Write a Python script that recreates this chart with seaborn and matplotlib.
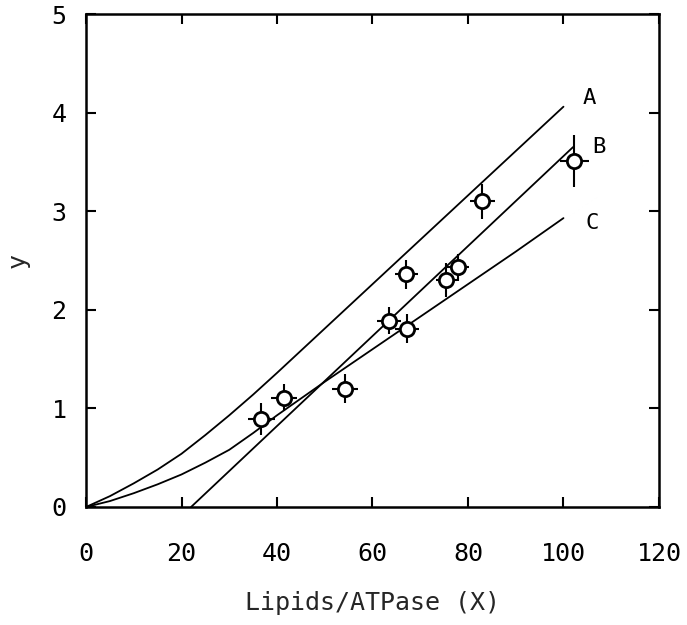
import matplotlib
matplotlib.use("Agg")
import matplotlib.pyplot as plt
import numpy as np
import pandas as pd
import seaborn as sns

# ---- data ----
curve_x = [0, 5, 10, 15, 20, 25, 30, 35, 40, 50, 60, 70, 80, 90, 100]
curve_A = [0, 0.11, 0.24, 0.38, 0.54, 0.73, 0.93, 1.14, 1.36, 1.81, 2.26, 2.71, 3.16, 3.61, 4.06]
curve_C = [0, 0.06, 0.14, 0.23, 0.33, 0.45, 0.58, 0.75, 0.93, 1.27, 1.60, 1.93, 2.26, 2.59, 2.93]
line_B_x = [22, 102]
line_B_y = [0, 3.65]

pts_x = [36.7, 41.5, 54.2, 63.4, 67.2, 67.1, 75.5, 78.0, 83.0, 102.3]
pts_y = [0.89, 1.11, 1.20, 1.89, 1.81, 2.36, 2.30, 2.43, 3.10, 3.51]
pts_xerr = [2.8, 2.7, 2.7, 2.5, 2.5, 2.4, 2.2, 2.3, 2.6, 3.1]
pts_yerr = [0.16, 0.14, 0.15, 0.14, 0.15, 0.15, 0.17, 0.14, 0.18, 0.26]

curve_labels = ["A", "B", "C"]
label_x = [105.3, 107.5, 106.0]
label_y = [4.15, 3.65, 2.88]

x_ticks = [0, 20, 40, 60, 80, 100, 120]
y_ticks = [0, 1, 2, 3, 4, 5]
x_label = "Lipids/ATPase (X)"
y_label = "y"

# ---- styling ----
sns.set_style("ticks")
plt.rcParams['font.family'] = ['DejaVu Sans Mono', 'DejaVu Sans']

fig = plt.figure(figsize=(6.87, 6.25), dpi=100)
ax = fig.add_axes([0.1252, 0.1888, 0.834, 0.7888])

df_curves = pd.concat([
    pd.DataFrame({"x": curve_x, "y": curve_A, "curve": "A"}),
    pd.DataFrame({"x": line_B_x, "y": line_B_y, "curve": "B"}),
    pd.DataFrame({"x": curve_x, "y": curve_C, "curve": "C"}),
])
sns.lineplot(data=df_curves, x="x", y="y", units="curve", estimator=None,
             sort=False, color="black", linewidth=1.3, ax=ax, zorder=2)

ax.errorbar(pts_x, pts_y, xerr=pts_xerr, yerr=pts_yerr, fmt="none",
            ecolor="black", elinewidth=1.5, capsize=0, zorder=3)
df_pts = pd.DataFrame({"x": pts_x, "y": pts_y})
sns.scatterplot(data=df_pts, x="x", y="y", marker="o", s=105,
                facecolor="white", edgecolor="black", linewidth=2.0,
                ax=ax, zorder=4)

for lab, lx, ly in zip(curve_labels, label_x, label_y):
    ax.text(lx, ly, lab, fontsize=16, ha="center", va="center", color="black")

ax.set_xlim(0, 120)
ax.set_ylim(0, 5)
ax.set_xticks(x_ticks)
ax.set_yticks(y_ticks)
ax.set_xticklabels([str(t) for t in x_ticks])
ax.set_yticklabels([str(t) for t in y_ticks])

for s in ax.spines.values():
    s.set_visible(True)
    s.set_linewidth(1.8)
    s.set_color("black")

ax.tick_params(axis="both", direction="in", top=True, right=True,
               length=7, width=1.5, colors="black", labelsize=18)
ax.tick_params(axis="x", pad=25)
ax.tick_params(axis="y", pad=14)

ax.set_xlabel(x_label, fontsize=18, labelpad=18)
ax.set_ylabel(y_label, fontsize=18, labelpad=16)

fig.savefig("out.png", dpi=100)
